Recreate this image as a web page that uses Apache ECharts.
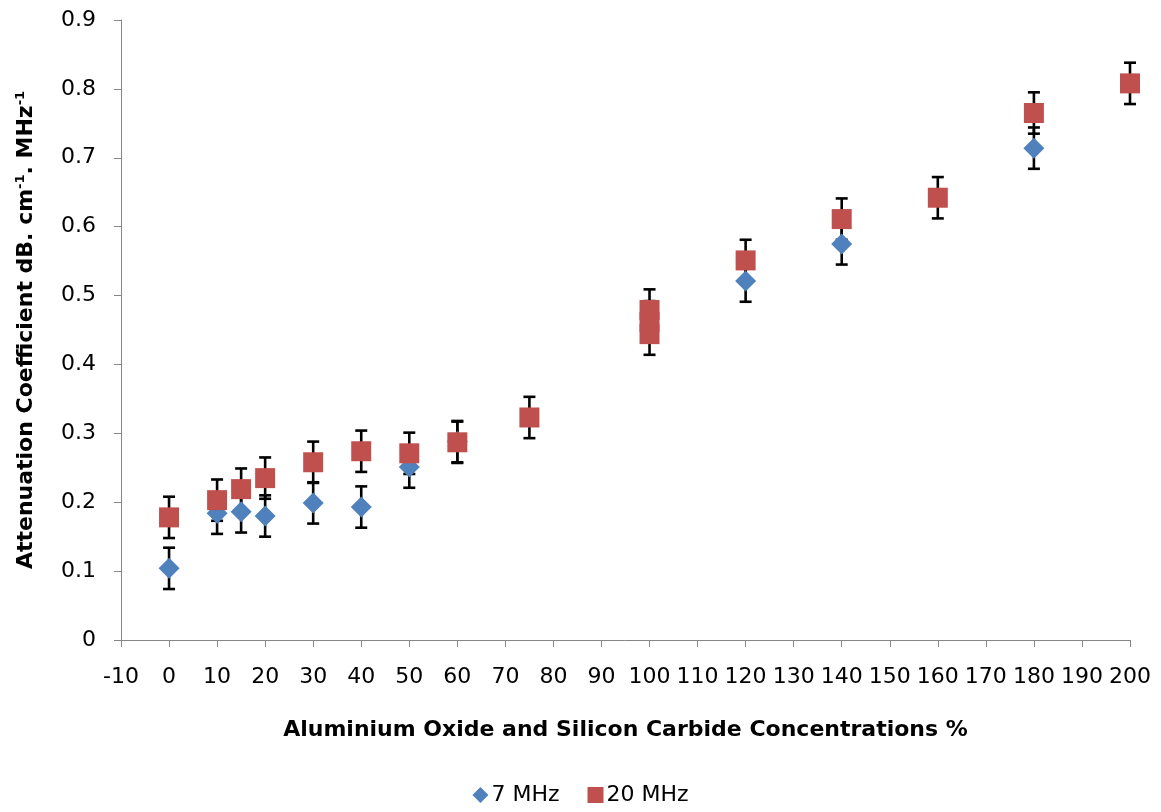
<!DOCTYPE html>
<html>
<head>
<meta charset="utf-8">
<script src="https://cdn.jsdelivr.net/npm/echarts@6/dist/echarts.min.js"></script>
<style>
  html, body { margin: 0; padding: 0; background: #fff; }
  #chart { width: 1161px; height: 812px; }
</style>
</head>
<body>
<div id="chart"></div>
<script>
  // 7 MHz series
  const conc7 = [0, 10, 15, 20, 30, 40, 50, 60, 120, 140, 180];
  const atten7 = [0.104, 0.184, 0.186, 0.180, 0.199, 0.193, 0.251, 0.288, 0.521, 0.575, 0.714];
  const err7 = [0.03, 0.03, 0.03, 0.03, 0.03, 0.03, 0.03, 0.03, 0.03, 0.03, 0.03];

  // 20 MHz series
  const conc20 = [0, 10, 15, 20, 30, 40, 50, 60, 75, 100, 100, 100, 120, 140, 160, 180, 200];
  const atten20 = [0.178, 0.203, 0.219, 0.235, 0.258, 0.274, 0.271, 0.287, 0.323, 0.479, 0.462, 0.444, 0.551, 0.611, 0.642, 0.765, 0.808];
  const err20 = [0.03, 0.03, 0.03, 0.03, 0.03, 0.03, 0.03, 0.03, 0.03, 0.03, 0.03, 0.03, 0.03, 0.03, 0.03, 0.03, 0.03];

  const font = 'DejaVu Sans, Verdana, sans-serif';

  function points(xs, ys) {
    return xs.map((x, i) => [x, ys[i]]);
  }
  function errRows(xs, ys, es) {
    return xs.map((x, i) => [x, ys[i] - es[i], ys[i] + es[i]]);
  }

  // error bar with caps, drawn through the axes
  function renderErr(params, api) {
    const x = api.value(0);
    const top = api.coord([x, api.value(2)]);
    const bot = api.coord([x, api.value(1)]);
    const cap = 6;
    const st = { stroke: '#000', lineWidth: 2.6 };
    return {
      type: 'group',
      children: [
        { type: 'line', shape: { x1: top[0], y1: top[1], x2: bot[0], y2: bot[1] }, style: st },
        { type: 'line', shape: { x1: top[0] - cap, y1: top[1], x2: top[0] + cap, y2: top[1] }, style: st },
        { type: 'line', shape: { x1: bot[0] - cap, y1: bot[1], x2: bot[0] + cap, y2: bot[1] }, style: st }
      ]
    };
  }

  const chart = echarts.init(document.getElementById('chart'));
  chart.setOption({
    animation: false,
    grid: { left: 121, right: 31, top: 20, bottom: 172, containLabel: false },
    legend: {
      bottom: 1,
      left: 'center',
      itemGap: 28,
      itemWidth: 16,
      itemHeight: 16,
      data: [
        { name: '7 MHz', icon: 'diamond' },
        { name: '20 MHz', icon: 'rect' }
      ],
      textStyle: { fontFamily: font, fontSize: 22, color: '#000', padding: [0, 0, 0, -2] }
    },
    xAxis: {
      type: 'value',
      min: -10,
      max: 200,
      interval: 10,
      name: 'Aluminium Oxide and Silicon Carbide Concentrations %',
      nameLocation: 'middle',
      nameGap: 79,
      nameTextStyle: { fontFamily: font, fontSize: 22, fontWeight: 'bold', color: '#000' },
      axisLine: { show: true, lineStyle: { color: '#868686', width: 1 } },
      axisTick: { show: true, inside: false, length: 7, lineStyle: { color: '#868686' } },
      axisLabel: { margin: 26, fontFamily: font, fontSize: 22, color: '#000' },
      splitLine: { show: false }
    },
    yAxis: {
      type: 'value',
      min: 0,
      max: 0.9,
      interval: 0.1,
      name: 'Attenuation Coefficient dB. cm{sup|-1}. MHz{sup|-1}',
      nameLocation: 'middle',
      nameRotate: 90,
      nameGap: 83,
      nameTextStyle: {
        fontFamily: font, fontSize: 22, fontWeight: 'bold', color: '#000',
        rich: {
          sup: { fontFamily: font, fontSize: 13, fontWeight: 'bold', color: '#000', verticalAlign: 'top', padding: [0, 0, 11, 0] }
        }
      },
      axisLine: { show: true, onZero: false, lineStyle: { color: '#868686', width: 1 } },
      axisTick: { show: true, inside: false, length: 7, lineStyle: { color: '#868686' } },
      axisLabel: {
        margin: 25, fontFamily: font, fontSize: 22, color: '#000',
        formatter: v => (Math.round(v * 10) / 10).toString()
      },
      splitLine: { show: false }
    },
    series: [
      {
        name: '7 MHz err',
        type: 'custom',
        renderItem: renderErr,
        encode: { x: 0, y: [1, 2] },
        data: errRows(conc7, atten7, err7),
        z: 2
      },
      {
        name: '7 MHz',
        type: 'scatter',
        symbol: 'diamond',
        symbolSize: 21,
        itemStyle: { color: '#4F81BD', opacity: 1 },
        data: points(conc7, atten7),
        z: 2
      },
      {
        name: '20 MHz err',
        type: 'custom',
        renderItem: renderErr,
        encode: { x: 0, y: [1, 2] },
        data: errRows(conc20, atten20, err20),
        z: 2
      },
      {
        name: '20 MHz',
        type: 'scatter',
        symbol: 'rect',
        symbolSize: 20,
        itemStyle: { color: '#C0504D', opacity: 1 },
        data: points(conc20, atten20),
        z: 2
      }
    ]
  });
</script>
</body>
</html>
